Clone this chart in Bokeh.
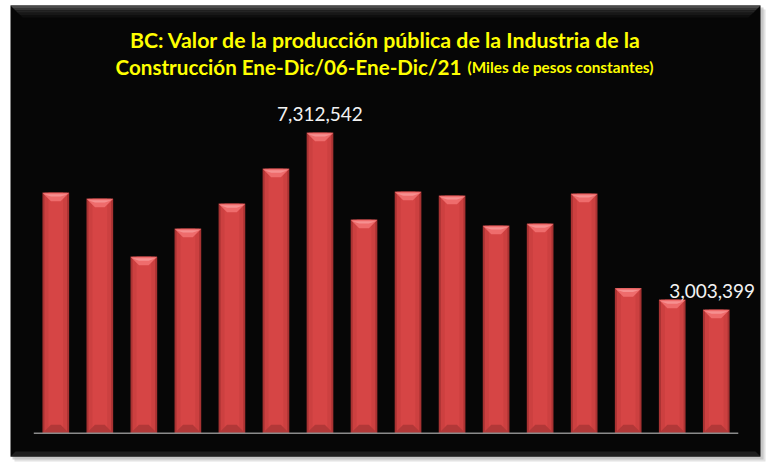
import numpy as np
from bokeh.plotting import figure
from bokeh.models import Range1d, Label, BoxAnnotation, PolyAnnotation, ColumnDataSource
from bokeh.core.properties import value
from bokeh.embed import file_html
from bokeh.resources import INLINE

# ---- data ----
years = [str(y) for y in range(2006, 2022)]
values = [5852000, 5706000, 4294000, 4976000, 5584000, 6436000, 7312542, 5195000,
          5876000, 5779000, 5049000, 5097000, 5828000, 3530000, 3247000, 3003399]
labelled = ["2012", "2021"]
title_line1 = "BC: Valor de la producción pública de la Industria de la"
title_line2a = "Construcción Ene-Dic/06-Ene-Dic/21"
title_line2b = "(Miles de pesos constantes)"

W, H = 770, 470
x0, x1 = -1.256, 16.232
y0, y1 = -908000, 10533000
XPX = (x1 - x0) / W
YPX = (y1 - y0) / H

p = figure(width=W, height=H, output_backend="svg", toolbar_location=None,
           x_range=Range1d(x0, x1), y_range=Range1d(y0, y1),
           x_axis_location=None, y_axis_location=None,
           min_border=0, min_border_left=0, min_border_right=0,
           min_border_top=0, min_border_bottom=0)
p.background_fill_color = "white"
p.border_fill_color = "white"
p.outline_line_color = None
p.grid.visible = False


def sbox(l, r, b, t, color, alpha=1.0):
    return BoxAnnotation(left=l, right=r, bottom=b, top=t,
                         left_units="screen", right_units="screen",
                         bottom_units="screen", top_units="screen",
                         fill_color=color, fill_alpha=alpha, line_color=None, level="underlay")


# ---- frame (screen units, y from bottom) ----
FL, FR, FB, FT = 10, 760, 14, 465
p.add_layout(sbox(FL + 4, FR + 5, FB - 5, FT - 4, "#d0d0d0", 0.6))
p.add_layout(sbox(FL + 2, FR + 3, FB - 3, FT - 2, "#b4b4b4", 0.6))
p.add_layout(sbox(FL, FR, FB, FT, "#060606"))
# top bevel
for k, col in enumerate(["#4a4a4a", "#353535", "#242424", "#171717", "#0e0e0e"]):
    t = FT - k * 2.4
    b = t - 2.4
    p.add_layout(PolyAnnotation(xs=[FL + k * 2.4, FR - k * 2.4, FR - (k + 1) * 2.4, FL + (k + 1) * 2.4],
                                ys=[t, t, b, b], xs_units="screen", ys_units="screen",
                                fill_color=col, fill_alpha=1, line_color=None, level="underlay"))
# bottom bevel
p.add_layout(PolyAnnotation(xs=[FL, FR, FR - 5, FL + 5], ys=[FB, FB, FB + 5, FB + 5],
                            xs_units="screen", ys_units="screen",
                            fill_color="#1e1e1e", fill_alpha=1, line_color=None, level="underlay"))

# ---- bars ----
idx = np.arange(len(years), dtype=float)
vals = np.array(values, dtype=float)
bw = 0.606
bev_x = 8.5 * XPX
bev_y = 8.5 * YPX
edge = 2.0 * XPX

src = ColumnDataSource(dict(x=idx, top=vals))
p.vbar(x="x", top="top", bottom=0, width=bw, source=src, fill_color="#a83232", line_color=None)
p.vbar(x="x", top="top", bottom=0, width=bw - 2 * edge, source=src, fill_color="#cc4040", line_color=None)
p.vbar(x="x", top="top", bottom=0, width=bw - 6 * edge, source=src, fill_color="#d64545", line_color=None)

# top facet
top_xs = [[x - bw / 2, x + bw / 2, x + bw / 2 - bev_x, x - bw / 2 + bev_x] for x in idx]
top_ys = [[v, v, v - bev_y, v - bev_y] for v in vals]
p.patches(top_xs, top_ys, fill_color="#ee6c6c", line_color=None)
top_xs2 = [[x - bw / 2 + 1.5 * XPX, x + bw / 2 - 1.5 * XPX, x + bw / 2 - bev_x, x - bw / 2 + bev_x] for x in idx]
top_ys2 = [[v - 1.5 * YPX, v - 1.5 * YPX, v - bev_y * 0.45, v - bev_y * 0.45] for v in vals]
p.patches(top_xs2, top_ys2, fill_color="#f69090", line_color=None)
# bottom facet
bot_xs = [[x - bw / 2, x + bw / 2, x + bw / 2 - bev_x, x - bw / 2 + bev_x] for x in idx]
bot_ys = [[0, 0, bev_y, bev_y] for _ in idx]
p.patches(bot_xs, bot_ys, fill_color="#b23838", line_color=None)

# baseline
p.segment(x0=[idx[0] - 0.5], x1=[idx[-1] + 0.5], y0=[0], y1=[0], line_color="#8a8a8a", line_width=1.5)

# ---- value labels ----
lab_x = [years.index(y) for y in labelled]
lab_src = ColumnDataSource(dict(x=[float(i) for i in lab_x],
                                y=[values[i] for i in lab_x],
                                t=[f"{values[i]:,}" for i in lab_x],
                                dx=[0, -4]))
p.text(x="x", y="y", text="t", x_offset="dx", y_offset=-19, source=lab_src,
       text_font=value("Lato"), text_font_size="19px", text_color="#f2f2f2",
       text_align="center", text_baseline="alphabetic")

# ---- title ----
p.add_layout(Label(x=385, y=431, x_units="screen", y_units="screen", text=title_line1,
                   text_font="Lato", text_font_style="bold", text_font_size="21.3px",
                   text_color="#ffff00", text_align="center", text_baseline="alphabetic"))
p.add_layout(Label(x=461, y=404, x_units="screen", y_units="screen", text=title_line2a,
                   text_font="Lato", text_font_style="bold", text_font_size="20.6px",
                   text_color="#ffff00", text_align="right", text_baseline="alphabetic"))
p.add_layout(Label(x=467, y=404, x_units="screen", y_units="screen", text=title_line2b,
                   text_font="Lato", text_font_style="bold", text_font_size="15.3px",
                   text_color="#ffff00", text_align="left", text_baseline="alphabetic"))

open("out.html", "w").write(file_html(p, INLINE))
